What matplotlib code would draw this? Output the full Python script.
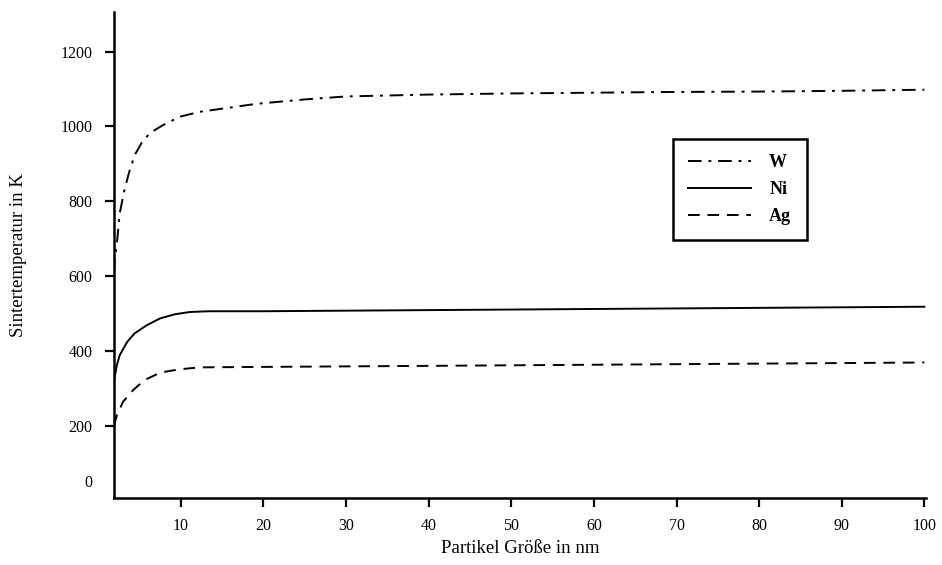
import matplotlib.pyplot as plt
from matplotlib.transforms import blended_transform_factory

# particle size (nm) and sinter temperature (K)
w_size = [1.9, 2.0, 2.25, 2.6, 3.1, 3.7, 4.4, 5.3, 6.25, 7.8, 9.9, 12.3, 15.9, 18.4, 20, 25, 30, 40, 50, 60, 70, 80, 90, 100]
w_temp = [610, 643, 688, 768, 824, 875, 923, 958, 982, 1003, 1026, 1039, 1050, 1058, 1062, 1072, 1080, 1085, 1088, 1090, 1092, 1093, 1095, 1098]

ni_size = [1.9, 2.25, 2.6, 3.5, 4.4, 5.9, 7.5, 9.3, 11.1, 13.5, 20, 40, 60, 80, 100]
ni_temp = [320, 362, 389, 424, 447, 469, 487, 498, 504, 506, 506, 509, 512, 515, 518]

ag_size = [1.9, 2.25, 3.0, 4.2, 5.6, 7.5, 9.9, 12.3, 18.4, 40, 60, 80, 100]
ag_temp = [200, 228, 264, 295, 322, 342, 351, 356, 357, 360, 363, 366, 369]

x_ticks = [10, 20, 30, 40, 50, 60, 70, 80, 90, 100]
y_ticks = [200, 400, 600, 800, 1000, 1200]

plt.rcParams['font.family'] = ['Liberation Serif', 'DejaVu Serif']

fig = plt.figure(figsize=(9.42, 5.65), dpi=100)
ax = fig.add_axes([0.121, 0.118, 0.862, 0.861])

ax.plot(w_size, w_temp, color='black', linewidth=1.4, linestyle=(0, (7, 3.5, 1.5, 3.5)), label='W')
ax.plot(ni_size, ni_temp, color='black', linewidth=1.4, linestyle='-', label='Ni')
ax.plot(ag_size, ag_temp, color='black', linewidth=1.4, linestyle=(0, (6, 4)), label='Ag')

ax.set_xlim(1.9, 100.2)
ax.set_ylim(6, 1306)
ax.set_xticks(x_ticks)
ax.set_yticks(y_ticks)
ax.tick_params(axis='both', direction='out', length=6.5, width=1.6, labelsize=11.5)
ax.tick_params(axis='x', pad=8)
ax.tick_params(axis='y', pad=9)

# the "0" label sits without a tick mark
trans = blended_transform_factory(ax.transAxes, ax.transData)
ax.annotate('0', xy=(0, 47), xycoords=trans, xytext=(-15.8, 0), textcoords='offset points',
            ha='right', va='center', fontsize=11.5)

for side in ['top', 'right']:
    ax.spines[side].set_visible(False)
for side in ['left', 'bottom']:
    ax.spines[side].set_linewidth(1.8)

ax.set_xlabel('Partikel Größe in nm', fontsize=13.5, labelpad=4)
ax.set_ylabel('Sintertemperatur in K', fontsize=13.5, labelpad=24)

leg = ax.legend(loc='upper left', bbox_to_anchor=(0.688, 0.739), borderaxespad=0,
                frameon=True, fancybox=False, edgecolor='black', framealpha=1,
                prop={'weight': 'bold', 'size': 13}, handlelength=3.5, handletextpad=1.0,
                labelspacing=0.55, borderpad=0.85)
leg.get_frame().set_linewidth(1.8)

fig.savefig('out.png', dpi=100)
